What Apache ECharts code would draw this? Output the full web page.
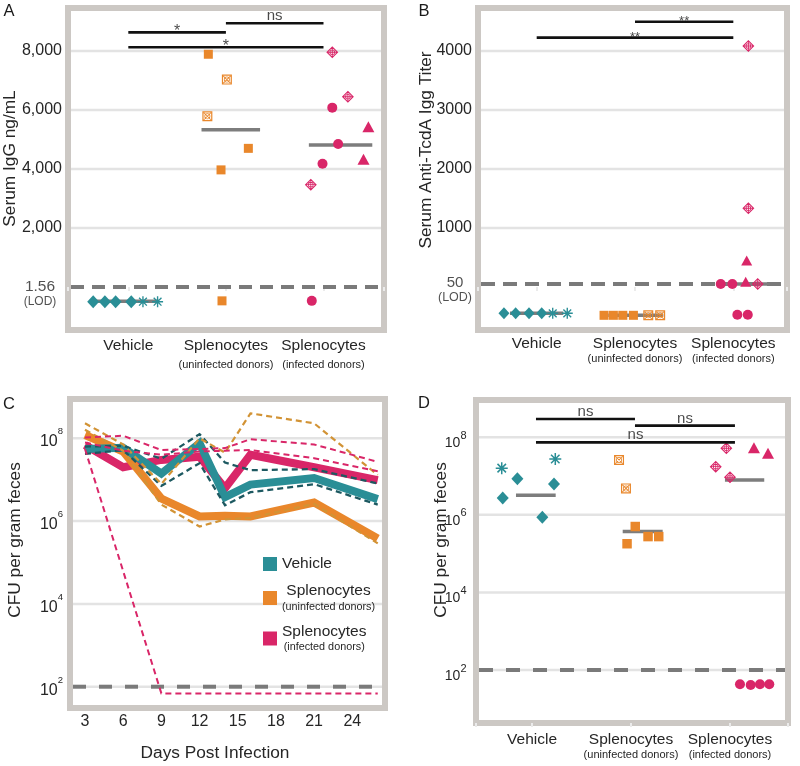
<!DOCTYPE html>
<html>
<head>
<meta charset="utf-8">
<title>Serum IgG / CFU panels</title>
<script src="https://cdn.jsdelivr.net/npm/echarts@6.0.0/dist/echarts.min.js"></script>
<style>
html,body{margin:0;padding:0;background:#ffffff;}
#chart{width:800px;height:766px;}
</style>
</head>
<body>
<div id="chart"></div>
<script>
// ================= DATA =================
const categories = ['Vehicle', 'Splenocytes', 'Splenocytes'];
const categorySubs = ['', '(uninfected donors)', '(infected donors)'];
const legendNames = ['Vehicle', 'Splenocytes (uninfected donors)', 'Splenocytes (infected donors)'];

// Panel A : Serum IgG ng/mL  ([x jitter, value]; below-LOD points shown under the LOD line)
const aTicks = [2000, 4000, 6000, 8000];
const aLOD = 1.56;
const aVehDiamond = [[0.64, -500], [0.76, -500], [0.87, -500], [1.03, -500]];
const aVehStar = [[1.15, -500], [1.30, -500]];
const aUninfSquare = [[1.82, 7890], [2.23, 4700], [1.95, 3970], [1.96, -470]];
const aUninfCross = [[2.01, 7030], [1.81, 5790]];
const aInfCircle = [[3.09, 6080], [3.15, 4850], [2.99, 4180], [2.88, -470]];
const aInfTriangle = [[3.46, 5430], [3.41, 4330]];
const aInfCrossDiamond = [[3.09, 7960], [3.25, 6450], [2.87, 3470]];
const aMeans = [[0.64, 1.31, -480], [1.75, 2.35, 5330], [2.85, 3.50, 4810]];
const aSigBars = [[1, 2, 8630], [2, 3, 8940], [1, 3, 8125]];
const aSigText = ['*', 'ns', '*'];

// Panel B : Serum anti-TcdA IgG titer
const bTicks = [1000, 2000, 3000, 4000];
const bLOD = 50;
const bVehDiamond = [[0.667, -446], [0.786, -446], [0.922, -446], [1.051, -446]];
const bVehStar = [[1.163, -446], [1.311, -446]];
const bUninfSquare = [[1.685, -480], [1.780, -480], [1.876, -480], [1.984, -480]];
const bUninfCross = [[2.135, -480], [2.256, -480]];
const bInfCircle = [[2.872, 50], [2.990, 50], [3.041, -470], [3.147, -470]];
const bInfTriangle = [[3.126, 90], [3.136, 450]];
const bInfCrossDiamond = [[3.248, 50], [3.153, 1334], [3.153, 4085]];
const bMeans = [[0.728, 1.271, -446], [1.728, 2.288, -480], [2.831, 3.373, 50]];
const bSigBars = [[2, 3, 4497], [1, 3, 4226]];
const bSigText = ['**', '**'];

// Panel C : CFU per gram feces over time
const cDays = [3, 6, 9, 12, 14, 16, 21, 26];
const cXTicks = [3, 6, 9, 12, 15, 18, 21, 24];
const cYTicks = [1e2, 1e4, 1e6, 1e8];
const cLOD = 1e2;
const cVehicle = [5.5e7, 5.9e7, 1.4e7, 7.6e7, 3.8e6, 7.6e6, 1.1e7, 3.4e6];
const cUninf = [1.2e8, 4.8e7, 3.5e6, 1.3e6, 1.35e6, 1.3e6, 2.8e6, 3.8e5];
const cInf = [6.9e7, 2.0e7, 3.0e7, 3.6e7, 6.2e6, 4.0e7, 2.0e7, 9.8e6];
const cVehUpper = [6.3e7, 6.6e7, 3.2e7, 1.26e8, 2.6e7, 1.7e7, 1.8e7, 8.1e6];
const cVehLower = [4.2e7, 5.2e7, 7.1e6, 2.5e7, 2.4e6, 5.0e6, 7.8e6, 2.5e6];
const cUninfUpper = [2.3e8, 7.1e7, 7.9e6, 1.0e8, 4.5e7, 4.0e8, 2.3e8, 1.3e7];
const cUninfLower = [1.6e8, 5.0e7, 2.5e6, 7.4e5, 1.1e6, 1.2e6, 2.6e6, 2.9e5];
const cInfUpper = [1.05e8, 1.15e8, 5.2e7, 5.5e7, 5.8e7, 9.5e7, 7.1e7, 2.7e7];
const cInfMid = [7.9e7, 5.0e7, 4.0e7, 4.8e7, 5.0e7, 5.2e7, 3.3e7, 1.6e7];
const cInfLowDays = [3, 9, 12, 14, 16, 21, 26];
const cInfLower = [5.5e7, 69, 69, 69, 69, 69, 69];

// Panel D : CFU per gram feces
const dYTicks = [1e2, 1e4, 1e6, 1e8];
const dLOD = 1e2;
const dVehDiamond = [[0.852, 8.5e6], [0.704, 2.7e6], [1.222, 6.2e6], [1.104, 8.7e5]];
const dVehStar = [[0.694, 1.6e7], [1.235, 2.75e7]];
const dUninfSquare = [[2.043, 5.0e5], [2.172, 2.75e5], [2.280, 2.75e5], [1.960, 1.8e5]];
const dUninfCross = [[1.879, 2.6e7], [1.949, 4.8e6]];
const dInfCrossDiamond = [[2.963, 5.2e7], [2.856, 1.75e7], [3.0, 9.3e6]];
const dInfTriangle = [[3.242, 5.4e7], [3.384, 3.9e7]];
const dInfCircle = [[3.101, 43], [3.209, 41], [3.303, 43], [3.397, 43]];
const dMeans = [[0.838, 1.239, 3.2e6], [1.916, 2.320, 3.7e5], [2.949, 3.346, 7.9e6]];
const dSigBars = [[1.04, 2.04, 2.95e8], [2.04, 3.05, 2.0e8], [1.04, 3.05, 7.4e7]];
const dSigText = ['ns', 'ns', 'ns'];

// ================= STYLE / LAYOUT =================
const FONT = "'Liberation Sans', Arial, Helvetica, sans-serif";
const TEAL = '#2a8e96', ORANGE = '#e9872b', PINK = '#d92668';
const TEAL_D = '#1d5961', ORANGE_D = '#d29335', PINK_D = '#d92668';
const MEAN = '#7d7d7d', LODC = '#7a7a7a', FRAME = '#ccc8c4', GRIDC = '#e3e3e3', TXT = '#262626';

const GRIDS = [
  {left: 68, top: 8, width: 316, height: 322},
  {left: 478, top: 8, width: 309, height: 322},
  {left: 70, top: 399, width: 315, height: 309},
  {left: 476, top: 400, width: 312, height: 323}
];
const AX = [0.382, 3.62], AY = [-1458, 9458];
const BX = [0.403, 3.546], BY = [-729, 4729];
const CX = [1.822, 26.57], CY = [30.6, 8.89e8];
const DX = [0.434, 3.586], DY = [4.3, 9.14e8];
const LETTERS = [['A', 9, 11], ['B', 424, 11], ['C', 9, 404], ['D', 424, 403.5]];

const SYM = {
  star: 'path://M-1,-8L1,-8L1,8L-1,8Z M-8,-1L8,-1L8,1L-8,1Z M-6.36,-4.95L-4.95,-6.36L6.36,4.95L4.95,6.36Z M-4.95,6.36L-6.36,4.95L4.95,-6.36L6.36,-4.95Z',
  crossSquare: 'path://M-10,-10L10,-10L10,10L-10,10Z M-7.6,-7.6L-7.6,7.6L7.6,7.6L7.6,-7.6Z M6,0A6,6 0 1 1 -6,0A6,6 0 1 1 6,0Z M4.5,0A4.5,4.5 0 1 0 -4.5,0A4.5,4.5 0 1 0 4.5,0Z M-6.36,-7.64L7.64,6.36L6.36,7.64L-7.64,-6.36Z M-7.64,6.36L6.36,-7.64L7.64,-6.36L-6.36,7.64Z',
  crossDiamond: 'path://M0,-10L10,0L0,10L-10,0Z M0,-7.4L-7.4,0L0,7.4L7.4,0Z M4.6,0A4.6,4.6 0 1 1 -4.6,0A4.6,4.6 0 1 1 4.6,0Z M3.3,0A3.3,3.3 0 1 0 -3.3,0A3.3,3.3 0 1 0 3.3,0Z M-0.75,-7.4L0.75,-7.4L0.75,7.4L-0.75,7.4Z M-7.4,-0.75L7.4,-0.75L7.4,0.75L-7.4,0.75Z'
};

// ================= HELPERS =================
const series = [];
function innerX(ext, w) { const p = (ext[1] - ext[0]) * 3 / w; return [ext[0] + p, ext[1] - p]; }
function hline(gi, x0, x1, y, color, width, type, z) {
  series.push({type: 'line', xAxisIndex: gi, yAxisIndex: gi, data: [[x0, y], [x1, y]], symbol: 'none',
    silent: true, z: z, animation: false, emphasis: {disabled: true},
    lineStyle: {color: color, width: width, type: type || 'solid', cap: 'butt'}});
}
function pts(gi, data, sym, size, color) {
  series.push({type: 'scatter', xAxisIndex: gi, yAxisIndex: gi, data: data, symbol: sym, symbolSize: size,
    itemStyle: {color: color, opacity: 1}, silent: true, z: 5, animation: false, emphasis: {disabled: true}});
}
function sig(gi, bars, texts) {
  bars.forEach(function (b, i) {
    hline(gi, b[0], b[1], b[2], '#111111', 2.6, 'solid', 6);
    const t = texts[i];
    const star = t.indexOf('*') >= 0;
    const single = star && t.length === 1;
    series.push({type: 'scatter', xAxisIndex: gi, yAxisIndex: gi, data: [[(b[0] + b[1]) / 2, b[2]]],
      symbolSize: 0, silent: true, z: 6, clip: false, animation: false,
      label: {show: true, position: 'top', distance: 0, offset: [0, star ? (single ? 7 : 6) : 0.5], formatter: t,
        fontSize: star ? (single ? 16 : 13) : 15, color: '#1a1a1a', fontFamily: FONT}});
  });
}
function lodLabel(gi, x, y, main, sub, dist, offY, fa, la, fb, lb) {
  series.push({type: 'scatter', xAxisIndex: gi, yAxisIndex: gi, data: [[x, y]], symbolSize: 0,
    silent: true, z: 6, clip: false, animation: false,
    label: {show: true, position: 'left', distance: dist, align: 'center', verticalAlign: 'top', offset: [0, offY],
      formatter: '{a|' + main + '}\n{b|' + sub + '}',
      rich: {a: {fontSize: fa, lineHeight: la, color: TXT, fontFamily: FONT, align: 'center'},
             b: {fontSize: fb, lineHeight: lb, color: TXT, fontFamily: FONT, align: 'center'}}}});
}
function cline(name, days, vals, color, width, type, z) {
  series.push({name: name, type: 'line', xAxisIndex: 2, yAxisIndex: 2,
    data: days.map(function (d, i) { return [d, vals[i]]; }), symbol: 'none', silent: true, z: z,
    animation: false, emphasis: {disabled: true}, itemStyle: {color: color},
    lineStyle: {color: color, width: width, type: type, join: 'miter', miterLimit: 2.5, cap: 'butt'}});
}
function hasTick(ticks, v) { return ticks.some(function (t) { return Math.abs(t - v) <= 1e-6 * Math.max(1, Math.abs(t)); }); }
function catFmt(v) {
  const i = Math.round(v);
  if (Math.abs(v - i) > 1e-6 || i < 1 || i > categories.length) return '';
  return categorySubs[i - 1] ? '{a|' + categories[i - 1] + '}\n{b|' + categorySubs[i - 1] + '}' : '{a|' + categories[i - 1] + '}';
}
function logFmt(ticks) {
  return function (v) {
    const e = Math.log10(v), n = Math.round(e);
    if (Math.abs(e - n) > 1e-6) return '';
    if (!ticks.some(function (t) { return Math.abs(Math.log10(t) - n) < 1e-6; })) return '';
    return '{b|10}{s|' + n + '}';
  };
}
function catX(gi, ext, margin, lhA, lhB) {
  return {type: 'value', gridIndex: gi, min: ext[0], max: ext[1], minInterval: 1, maxInterval: 1,
    axisLine: {show: false}, splitLine: {show: false},
    axisTick: {show: true, length: 4, lineStyle: {color: '#ebebeb', width: 2}},
    axisLabel: {margin: margin, color: TXT, formatter: catFmt,
      rich: {a: {fontSize: 15.5, lineHeight: lhA, color: TXT, fontFamily: FONT},
             b: {fontSize: 11, lineHeight: lhB, color: TXT, fontFamily: FONT}}}};
}
function yName(name, gap, pad) {
  return {name: name, nameLocation: 'middle', nameRotate: 90, nameGap: gap, nameMoveOverlap: false,
    nameTextStyle: {fontSize: 17.3, color: TXT, fontFamily: FONT, padding: [0, 0, 0, pad]}};
}
function linY(gi, ext, step, ticks, fmt, nm) {
  return Object.assign({type: 'value', gridIndex: gi, min: ext[0], max: ext[1], minInterval: step, maxInterval: step,
    axisLine: {show: false}, axisTick: {show: false}, splitLine: {show: false},
    axisLabel: {margin: 6, fontSize: 16, color: TXT, formatter: function (v) { return hasTick(ticks, v) ? fmt(v) : ''; }}}, nm);
}
function logY(gi, ext, ticks, margin, rich, nm) {
  return Object.assign({type: 'log', logBase: 10, gridIndex: gi, min: ext[0], max: ext[1],
    axisLine: {show: false}, axisTick: {show: false}, splitLine: {show: false}, minorTick: {show: false},
    axisLabel: {margin: margin, color: TXT, formatter: logFmt(ticks), rich: rich}}, nm);
}

// ================= PANEL A =================
let ix = innerX(AX, GRIDS[0].width);
aTicks.forEach(function (v) { hline(0, ix[0], ix[1], v, GRIDC, 2.5, 'solid', 1); });
hline(0, ix[0], ix[1], aLOD, LODC, 4, [13, 8], 2);
aMeans.forEach(function (m) { hline(0, m[0], m[1], m[2], MEAN, 3.5, 'solid', 3); });
pts(0, aVehDiamond, 'diamond', [12, 13], TEAL);
pts(0, aVehStar, SYM.star, 11, TEAL);
pts(0, aUninfSquare, 'rect', 9, ORANGE);
pts(0, aUninfCross, SYM.crossSquare, 10, ORANGE);
pts(0, aInfCircle, 'circle', 10, PINK);
pts(0, aInfTriangle, 'triangle', [12, 11], PINK);
pts(0, aInfCrossDiamond, SYM.crossDiamond, 12, PINK);
sig(0, aSigBars, aSigText);
lodLabel(0, AX[0], aLOD, '1.56', '(LOD)', 28, -9, 15.5, 18, 12, 11);

// ================= PANEL B =================
ix = innerX(BX, GRIDS[1].width);
bTicks.forEach(function (v) { hline(1, ix[0], ix[1], v, GRIDC, 2.5, 'solid', 1); });
hline(1, ix[0], ix[1], bLOD, LODC, 4, [14, 8], 2);
bMeans.forEach(function (m) { hline(1, m[0], m[1], m[2], MEAN, 3.5, 'solid', 3); });
pts(1, bVehDiamond, 'diamond', [11, 12], TEAL);
pts(1, bVehStar, SYM.star, 11, TEAL);
pts(1, bUninfSquare, 'rect', 9, ORANGE);
pts(1, bUninfCross, SYM.crossSquare, 10, ORANGE);
pts(1, bInfCircle, 'circle', 10, PINK);
pts(1, bInfTriangle, 'triangle', [11, 10], PINK);
pts(1, bInfCrossDiamond, SYM.crossDiamond, 12, PINK);
sig(1, bSigBars, bSigText);
lodLabel(1, BX[0], bLOD, '50', '(LOD)', 23, -9.3, 15, 16, 12.5, 13);

// ================= PANEL C =================
ix = innerX(CX, GRIDS[2].width);
cYTicks.forEach(function (v) { hline(2, ix[0], ix[1], v, GRIDC, 2.5, 'solid', 1); });
hline(2, ix[0], ix[1], cLOD, LODC, 4, [13, 13], 2);
cline(legendNames[2], cDays, cInf, PINK, 8, 'solid', 3);
cline(legendNames[1], cDays, cUninf, ORANGE, 8, 'solid', 3);
cline(legendNames[0], cDays, cVehicle, TEAL, 8, 'solid', 3);
cline('vehUpper', cDays, cVehUpper, TEAL_D, 2.3, [6, 4], 4);
cline('vehLower', cDays, cVehLower, TEAL_D, 2.3, [6, 4], 4);
cline('uninfUpper', cDays, cUninfUpper, ORANGE_D, 2.2, [6, 4], 4);
cline('uninfLower', cDays, cUninfLower, ORANGE_D, 2.2, [6, 4], 4);
cline('infUpper', cDays, cInfUpper, PINK_D, 2, [6, 4], 4);
cline('infMid', cDays, cInfMid, PINK_D, 2, [6, 4], 4);
cline('infLower', cInfLowDays, cInfLower, PINK_D, 2, [6, 4], 4);

// ================= PANEL D =================
ix = innerX(DX, GRIDS[3].width);
dYTicks.forEach(function (v) { hline(3, ix[0], ix[1], v, GRIDC, 2.5, 'solid', 1); });
hline(3, ix[0], ix[1], dLOD, LODC, 4, [14, 13], 2);
dMeans.forEach(function (m) { hline(3, m[0], m[1], m[2], MEAN, 3.5, 'solid', 3); });
pts(3, dVehDiamond, 'diamond', [12, 13], TEAL);
pts(3, dVehStar, SYM.star, 12, TEAL);
pts(3, dUninfSquare, 'rect', 9.5, ORANGE);
pts(3, dUninfCross, SYM.crossSquare, 10, ORANGE);
pts(3, dInfCircle, 'circle', 10, PINK);
pts(3, dInfTriangle, 'triangle', [12, 11], PINK);
pts(3, dInfCrossDiamond, SYM.crossDiamond, 12, PINK);
sig(3, dSigBars, dSigText);

// ================= OPTION =================
const option = {
  animation: false,
  backgroundColor: '#ffffff',
  textStyle: {fontFamily: FONT},
  grid: GRIDS.map(function (g) {
    return Object.assign({show: true, backgroundColor: '#ffffff', borderColor: FRAME, borderWidth: 6,
      containLabel: false, outerBoundsMode: 'none'}, g);
  }),
  xAxis: [
    catX(0, AX, 6, 20, 18.6),
    catX(1, BX, 5, 18, 12),
    Object.assign({type: 'value', gridIndex: 2, min: CX[0], max: CX[1], minInterval: 3, maxInterval: 3,
      axisLine: {show: false}, axisTick: {show: false}, splitLine: {show: false},
      axisLabel: {margin: 6, fontSize: 16, color: TXT, formatter: function (v) { return hasTick(cXTicks, v) ? String(Math.round(v)) : ''; }},
      name: 'Days Post Infection', nameLocation: 'middle', nameGap: 37, nameMoveOverlap: false,
      nameTextStyle: {fontSize: 17.3, color: TXT, fontFamily: FONT, padding: [0, 25, 0, 0]}}),
    catX(3, DX, 7.3, 18, 13)
  ],
  yAxis: [
    linY(0, AY, 2000, aTicks, function (v) { return Math.round(v).toLocaleString('en-US'); }, yName('Serum IgG ng/mL', 49, 21)),
    linY(1, BY, 1000, bTicks, function (v) { return String(Math.round(v)); }, yName('Serum Anti-TcdA Igg Titer', 43, 38)),
    logY(2, CY, cYTicks, 7, {
      b: {fontSize: 16, lineHeight: 23, verticalAlign: 'bottom', color: TXT, fontFamily: FONT},
      s: {fontSize: 9.5, lineHeight: 23, verticalAlign: 'top', color: TXT, fontFamily: FONT}
    }, yName('CFU per gram feces', 46, 27)),
    logY(3, DY, dYTicks, 9.5, {
      b: {fontSize: 14, lineHeight: 26, verticalAlign: 'bottom', color: TXT, fontFamily: FONT},
      s: {fontSize: 11, verticalAlign: 'top', padding: [6, 0, 0, 0], color: TXT, fontFamily: FONT}
    }, yName('CFU per gram feces', 26, 43))
  ],
  legend: {
    show: true, orient: 'vertical', left: 258, top: 551, icon: 'rect', itemWidth: 14, itemHeight: 14, itemGap: 11,
    selectedMode: false, itemStyle: {borderWidth: 0},
    data: legendNames.map(function (n, i) { return {name: n, itemStyle: {color: [TEAL, ORANGE, PINK][i], borderWidth: 0}}; }),
    formatter: function (name) {
      const i = legendNames.indexOf(name);
      return categorySubs[i] ? '{a|' + categories[i] + '}\n{b|' + categorySubs[i] + '}' : '{a|' + categories[i] + '}';
    },
    textStyle: {color: TXT, rich: {
      a: {fontSize: 15.5, lineHeight: 18, align: 'center', color: TXT, fontFamily: FONT},
      b: {fontSize: 10.8, lineHeight: 14, align: 'center', color: TXT, fontFamily: FONT}
    }}
  },
  graphic: LETTERS.map(function (L) {
    return {type: 'text', x: L[1], y: L[2], silent: true,
      style: {text: L[0], fontSize: 16.5, fontFamily: FONT, fill: '#1a1a1a', align: 'center', verticalAlign: 'middle'}};
  }),
  series: series
};

const chart = echarts.init(document.getElementById('chart'), null, {renderer: 'canvas', width: 800, height: 766});
chart.setOption(option);
</script>
</body>
</html>
